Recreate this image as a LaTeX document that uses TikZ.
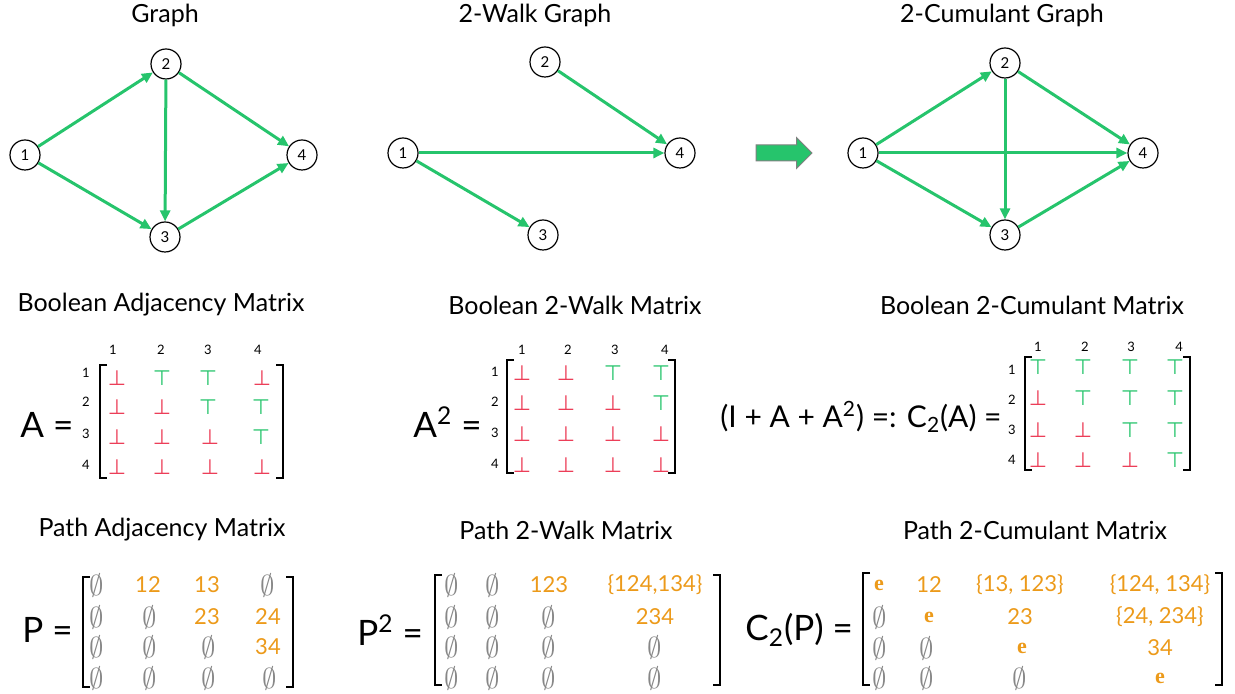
\documentclass[tikz,border=0pt]{standalone}
\usepackage{fontspec}
\setmainfont{Lato}
\newfontfamily\eefont{Liberation Serif}
\newfontfamily\glyphfont{DejaVu Sans}
\usepackage{xcolor}
\usepackage{tikz}
\definecolor{edgegreen}{RGB}{38, 196, 108}
\definecolor{falsered}{RGB}{236, 62, 88}
\definecolor{pathorange}{RGB}{236, 154, 26}
\definecolor{emptygray}{RGB}{135, 135, 135}
\usetikzlibrary{shapes.arrows, arrows.meta}

\newcommand{\bfalse}{\textcolor{falsered}{\glyphfont ⊥}}
\newcommand{\btrue}{\textcolor{edgegreen}{\glyphfont ⊤}}
\newcommand{\pnone}{{\fontsize{13.5}{14}\selectfont\textcolor{emptygray}{$\emptyset$}}}
\newcommand{\ppath}[1]{\textcolor{pathorange}{#1}}
\newcommand{\punit}{\textcolor{pathorange}{\eefont\bfseries e}}
% left x, right x, top y, bottom y
\newcommand{\matbrackets}[4]{%
    \draw[brk] (#1+7,#3) -- (#1,#3) -- (#1,#4) -- (#1+7,#4);
    \draw[brk] (#2-7,#3) -- (#2,#3) -- (#2,#4) -- (#2-7,#4);}

\begin{document}
\begin{tikzpicture}[
    x=0.5pt, y=-0.5pt,
    vtx/.style={circle, draw, line width=0.6pt, minimum size=15pt, inner sep=0pt, font=\fontsize{7.5}{8}\selectfont},
    edge/.style={draw=edgegreen, line width=1.5pt, -{Triangle[length=5.5pt, width=5pt]}},
    ttl/.style={font=\fontsize{12.5}{14}\selectfont},
    lhs/.style={anchor=west, inner sep=0pt, font=\fontsize{17.5}{20}\selectfont},
    idx/.style={inner sep=0pt, font=\fontsize{6.5}{7}\selectfont},
    bent/.style={inner sep=0pt, font=\fontsize{10.5}{12}\selectfont},
    pent/.style={inner sep=0pt, font=\fontsize{11}{13}\selectfont},
    brk/.style={line width=1.4pt}
]
    \useasboundingbox (0,0) rectangle (1235,694);

    % ---- graphs
    \node[ttl] (t-graph) at (165,15) {Graph};
    \node[vtx] (g1) at (25,155) {1};
    \node[vtx] (g2) at (166,64) {2};
    \node[vtx] (g3) at (165,237) {3};
    \node[vtx] (g4) at (302,155) {4};
    \draw[edge] (g1) -- (g2);
    \draw[edge] (g1) -- (g3);
    \draw[edge] (g2) -- (g3);
    \draw[edge] (g2) -- (g4);
    \draw[edge] (g3) -- (g4);

    \node[ttl] (t-walk) at (535,15) {2-Walk Graph};
    \node[vtx] (w1) at (403,153) {1};
    \node[vtx] (w2) at (545,62) {2};
    \node[vtx] (w3) at (543,235) {3};
    \node[vtx] (w4) at (680,153) {4};
    \draw[edge] (w2) -- (w4);
    \draw[edge] (w1) -- (w4);
    \draw[edge] (w1) -- (w3);

    \node[single arrow, fill=edgegreen, draw=gray, line width=0.5pt, minimum height=28pt,
          inner sep=3.75pt, single arrow head extend=3.75pt] (bigarrow) at (780,153) {};

    \node[ttl] (t-cum) at (1002,15) {2-Cumulant Graph};
    \node[vtx] (c1) at (863,153) {1};
    \node[vtx] (c2) at (1005,63) {2};
    \node[vtx] (c3) at (1005,235) {3};
    \node[vtx] (c4) at (1143,153) {4};
    \draw[edge] (c1) -- (c2);
    \draw[edge] (c1) -- (c3);
    \draw[edge] (c1) -- (c4);
    \draw[edge] (c2) -- (c3);
    \draw[edge] (c2) -- (c4);
    \draw[edge] (c3) -- (c4);

    % ---- boolean matrices
    \node[ttl] (t-badj) at (161,305) {Boolean Adjacency Matrix};
    \node[lhs] (a-lhs) at (20,425) {A =};
    \foreach \x [count=\c] in {113,161,208,258} \node[idx] (a-col\c) at (\x,350) {\c};
    \foreach \y [count=\r] in {373,402,434,465} \node[idx] (a-row\r) at (86,\y) {\r};
    \foreach \x/\c/\v in {117/1/\bfalse,162/2/\btrue,208/3/\btrue,262/4/\bfalse} \node[bent] (a-1-\c) at (\x,378) {\v};
    \foreach \x/\c/\v in {117/1/\bfalse,162/2/\bfalse,208/3/\btrue,261/4/\btrue} \node[bent] (a-2-\c) at (\x,407) {\v};
    \foreach \x/\c/\v in {117/1/\bfalse,162/2/\bfalse,210/3/\bfalse,261/4/\btrue} \node[bent] (a-3-\c) at (\x,437) {\v};
    \foreach \x/\c/\v in {117/1/\bfalse,162/2/\bfalse,210/3/\bfalse,262/4/\bfalse} \node[bent] (a-4-\c) at (\x,467) {\v};
    \matbrackets{100}{283}{365}{478}

    \node[ttl] (t-bwalk) at (575,305) {Boolean 2-Walk Matrix};
    \node[lhs] (b-lhs) at (413,422) {A\textsuperscript{2} =};
    \foreach \x [count=\c] in {522,568,615,665} \node[idx] (b-col\c) at (\x,350) {\c};
    \foreach \y [count=\r] in {372,402,433,464} \node[idx] (b-row\r) at (495,\y) {\r};
    \foreach \x/\c/\v in {522/1/\bfalse,566/2/\bfalse,613/3/\btrue,661/4/\btrue} \node[bent] (b-1-\c) at (\x,373) {\v};
    \foreach \x/\c/\v in {522/1/\bfalse,566/2/\bfalse,613/3/\bfalse,661/4/\btrue} \node[bent] (b-2-\c) at (\x,403) {\v};
    \foreach \x/\c/\v in {522/1/\bfalse,566/2/\bfalse,613/3/\bfalse,661/4/\bfalse} \node[bent] (b-3-\c) at (\x,434) {\v};
    \foreach \x/\c/\v in {522/1/\bfalse,566/2/\bfalse,613/3/\bfalse,661/4/\bfalse} \node[bent] (b-4-\c) at (\x,465) {\v};
    \matbrackets{507}{675}{360}{473}

    \node[ttl] (t-bcum) at (1032,305) {Boolean 2-Cumulant Matrix};
    \node[lhs, font=\fontsize{15}{18}\selectfont] (c-lhs) at (720,417) {(I + A + A\textsuperscript{2}) =: C\textsubscript{2}(A) =};
    \foreach \x [count=\c] in {1038,1085,1131,1179} \node[idx] (k-col\c) at (\x,347) {\c};
    \foreach \y [count=\r] in {370,400,430,460} \node[idx] (k-row\r) at (1012,\y) {\r};
    \foreach \x/\c/\v in {1038/1/\btrue,1083/2/\btrue,1130/3/\btrue,1175/4/\btrue} \node[bent] (k-1-\c) at (\x,367) {\v};
    \foreach \x/\c/\v in {1038/1/\bfalse,1083/2/\btrue,1130/3/\btrue,1175/4/\btrue} \node[bent] (k-2-\c) at (\x,398) {\v};
    \foreach \x/\c/\v in {1038/1/\bfalse,1083/2/\bfalse,1130/3/\btrue,1175/4/\btrue} \node[bent] (k-3-\c) at (\x,430) {\v};
    \foreach \x/\c/\v in {1038/1/\bfalse,1083/2/\bfalse,1130/3/\bfalse,1175/4/\btrue} \node[bent] (k-4-\c) at (\x,460) {\v};
    \matbrackets{1025}{1190}{357}{470}

    % ---- path matrices
    \node[ttl] (t-padj) at (162,530) {Path Adjacency Matrix};
    \node[lhs] (p-lhs) at (22,630) {P =};
    \foreach \x/\c/\v in {97/1/\pnone,148/2/\ppath{12},207/3/\ppath{13},268/4/\pnone} \node[pent] (p-1-\c) at (\x,585) {\v};
    \foreach \x/\c/\v in {97/1/\pnone,150/2/\pnone,207/3/\ppath{23},268/4/\ppath{24}} \node[pent] (p-2-\c) at (\x,617) {\v};
    \foreach \x/\c/\v in {97/1/\pnone,150/2/\pnone,209/3/\pnone,268/4/\ppath{34}} \node[pent] (p-3-\c) at (\x,647) {\v};
    \foreach \x/\c/\v in {97/1/\pnone,150/2/\pnone,209/3/\pnone,270/4/\pnone} \node[pent] (p-4-\c) at (\x,678) {\v};
    \matbrackets{83}{293}{577}{687}

    \node[ttl] (t-pwalk) at (566,530) {Path 2-Walk Matrix};
    \node[lhs] (q-lhs) at (357,630) {P\textsuperscript{2} =};
    \foreach \x/\c/\v in {452/1/\pnone,493/2/\pnone,549/3/\ppath{123},655/4/{\ppath{\{124,134\}}}} \node[pent] (q-1-\c) at (\x,585) {\v};
    \foreach \x/\c/\v in {452/1/\pnone,493/2/\pnone,549/3/\pnone,655/4/\ppath{234}} \node[pent] (q-2-\c) at (\x,617) {\v};
    \foreach \x/\c/\v in {452/1/\pnone,493/2/\pnone,549/3/\pnone,655/4/\pnone} \node[pent] (q-3-\c) at (\x,647) {\v};
    \foreach \x/\c/\v in {452/1/\pnone,493/2/\pnone,549/3/\pnone,655/4/\pnone} \node[pent] (q-4-\c) at (\x,678) {\v};
    \matbrackets{435}{720}{575}{685}

    \node[ttl] (t-pcum) at (1035,530) {Path 2-Cumulant Matrix};
    \node[lhs] (r-lhs) at (745,630) {C\textsubscript{2}(P) =};
    \foreach \x/\c/\v in {879/1/\punit,929/2/\ppath{12},1020/3/{\ppath{\{13, 123\}}},1160/4/{\ppath{\{124, 134\}}}} \node[pent] (r-1-\c) at (\x,585) {\v};
    \foreach \x/\c/\v in {880/1/\pnone,929/2/\punit,1020/3/\ppath{23},1160/4/{\ppath{\{24, 234\}}}} \node[pent] (r-2-\c) at (\x,617) {\v};
    \foreach \x/\c/\v in {880/1/\pnone,927/2/\pnone,1022/3/\punit,1160/4/\ppath{34}} \node[pent] (r-3-\c) at (\x,648) {\v};
    \foreach \x/\c/\v in {880/1/\pnone,927/2/\pnone,1020/3/\pnone,1160/4/\punit} \node[pent] (r-4-\c) at (\x,678) {\v};
    \matbrackets{863}{1222}{573}{685}
\end{tikzpicture}
\end{document}
